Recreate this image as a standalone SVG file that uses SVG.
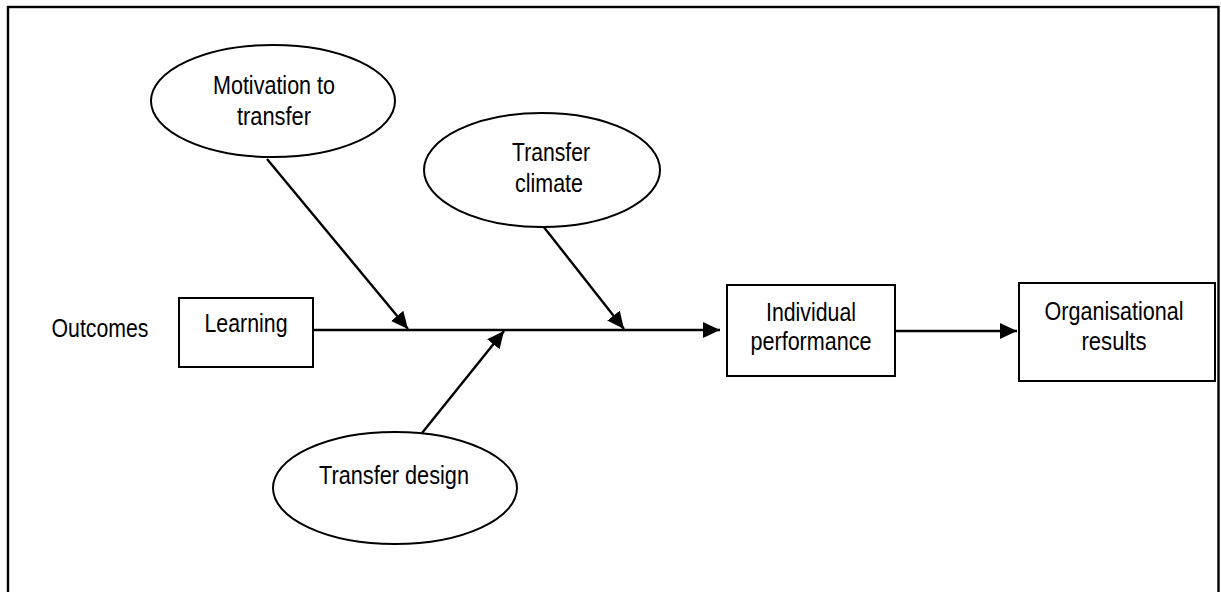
<svg xmlns="http://www.w3.org/2000/svg" width="1221" height="592" viewBox="0 0 1221 592">
<style>
.t{font-family:"Liberation Sans",Arial,sans-serif;font-size:26px;fill:#000;text-anchor:middle}
.n{fill:#fff;stroke:#000;stroke-width:2}
.c{stroke:#000;stroke-width:2.4;fill:none}
</style>
<defs>
<marker id="ah" markerUnits="userSpaceOnUse" markerWidth="18" markerHeight="16" refX="17" refY="8" orient="auto">
<path d="M0,0 L17,8 L0,16 z" fill="#000"/>
</marker>
</defs>
<rect x="0" y="0" width="1221" height="592" fill="#fff"/>
<rect id="frame" x="8" y="7" width="1210.5" height="610" fill="none" stroke="#000" stroke-width="2.4"/>
<g id="connectors">
<line class="c" x1="313" y1="330" x2="720" y2="330" marker-end="url(#ah)"/>
<line class="c" x1="895" y1="331" x2="1017" y2="331" marker-end="url(#ah)"/>
<line class="c" x1="267" y1="159" x2="408" y2="329" marker-end="url(#ah)"/>
<line class="c" x1="543" y1="226" x2="624" y2="329" marker-end="url(#ah)"/>
<line class="c" x1="422" y1="433" x2="504" y2="331" marker-end="url(#ah)"/>
</g>
<text class="t" id="outcomes" x="100" y="337" textLength="97" lengthAdjust="spacingAndGlyphs">Outcomes</text>
<g id="learning">
<rect class="n" x="179" y="298" width="134" height="69"/>
<text class="t" x="246" y="332" textLength="83" lengthAdjust="spacingAndGlyphs">Learning</text>
</g>
<g id="motivation">
<ellipse class="n" cx="273" cy="101" rx="122" ry="56"/>
<text class="t" x="274" y="94" textLength="122" lengthAdjust="spacingAndGlyphs">Motivation to</text>
<text class="t" x="274" y="125" textLength="74" lengthAdjust="spacingAndGlyphs">transfer</text>
</g>
<g id="climate">
<ellipse class="n" cx="542" cy="170" rx="118" ry="57"/>
<text class="t" x="551" y="161" textLength="78" lengthAdjust="spacingAndGlyphs">Transfer</text>
<text class="t" x="549" y="192" textLength="68" lengthAdjust="spacingAndGlyphs">climate</text>
</g>
<g id="design">
<ellipse class="n" cx="395" cy="488" rx="122" ry="56"/>
<text class="t" x="394" y="484" textLength="150" lengthAdjust="spacingAndGlyphs">Transfer design</text>
</g>
<g id="individual">
<rect class="n" x="727" y="285" width="168" height="91"/>
<text class="t" x="811" y="321" textLength="90" lengthAdjust="spacingAndGlyphs">Individual</text>
<text class="t" x="811" y="350" textLength="121" lengthAdjust="spacingAndGlyphs">performance</text>
</g>
<g id="organisational">
<rect class="n" x="1019" y="283" width="196" height="98"/>
<text class="t" x="1114" y="320" textLength="139" lengthAdjust="spacingAndGlyphs">Organisational</text>
<text class="t" x="1114" y="350" textLength="65" lengthAdjust="spacingAndGlyphs">results</text>
</g>
</svg>
